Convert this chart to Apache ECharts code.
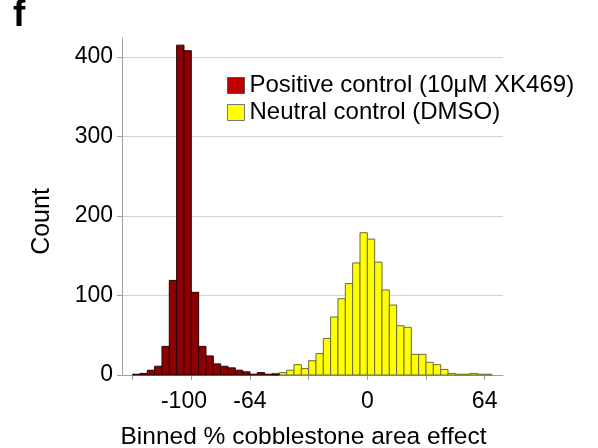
<!DOCTYPE html>
<html>
<head>
<meta charset="utf-8">
<script src="https://cdn.jsdelivr.net/npm/echarts@6/dist/echarts.min.js"></script>
<style>
html,body{margin:0;padding:0;background:#fff;}
#chart{width:598px;height:448px;}
</style>
</head>
<body>
<div id="chart"></div>
<script>
// Bin width (data units) and left edges of each bin
const BIN_WIDTH = 4;
const positiveBinLeft = [-128,-124,-120,-116,-112,-108,-104,-100,-96,-92,-88,-84,-80,-76,-72,-68,-64,-60,-56,-52];
const positiveCounts  = [1,2,6,11,36,119,415,408,104,36,24,14,11,9,6,4,1,3,1,1];
const neutralBinLeft  = [-52,-48,-44,-40,-36,-32,-28,-24,-20,-16,-12,-8,-4,0,4,8,12,16,20,24,28,32,36,40,44,48,52,56,60,64];
const neutralCounts   = [2,3,6,13,8,18,27,46,73,96,115,141,179,171,142,107,88,62,60,26,26,16,13,7,2,1,1,2,1,1];
const xTickValues  = [-128,-96,-64,-32,0,32,64];
const xLabelValues = [-100,-64,0,64];
const yTickValues  = [0,100,200,300,400];
const seriesNames  = ['Positive control (10\u03bcM XK469)','Neutral control (DMSO)'];

const FONT = '"Liberation Sans", Arial, Helvetica, sans-serif';

function makeData(lefts, counts){
  return lefts.map((l,i)=>[l, l + BIN_WIDTH, counts[i]]);
}
function barRenderer(fill, stroke){
  return function(params, api){
    const p0 = api.coord([api.value(0), api.value(2)]);
    const p1 = api.coord([api.value(1), 0]);
    return {
      type:'rect',
      shape:{x:p0[0], y:p0[1], width:p1[0]-p0[0], height:p1[1]-p0[1]},
      style:{fill:fill, stroke:stroke, lineWidth:1}
    };
  };
}

const chart = echarts.init(document.getElementById('chart'), null, {renderer:'canvas'});
chart.setOption({
  animation:false,
  backgroundColor:'#ffffff',
  title:{text:'f', left:8, top:-8, textStyle:{fontFamily:FONT, fontWeight:'bold', fontSize:37, color:'#000'}},
  legend:{
    orient:'vertical', left:227, top:72, padding:0, itemWidth:17, itemHeight:16, itemGap:0,
    textStyle:{fontFamily:FONT, fontSize:24, color:'#000', lineHeight:27},
    data:[
      {name:seriesNames[0], icon:'rect', itemStyle:{color:'#c00000', borderColor:'#555', borderWidth:1}},
      {name:seriesNames[1], icon:'rect', itemStyle:{color:'#ffff00', borderColor:'#777', borderWidth:1}}
    ]
  },
  grid:{left:122, right:95, top:38, bottom:73, outerBoundsMode:'none', containLabel:false},
  xAxis:{
    type:'value', min:-133.8, max:74,
    name:'Binned % cobblestone area effect', nameLocation:'middle', nameGap:50,
    nameTextStyle:{fontFamily:FONT, fontSize:24.5, color:'#000', padding:[0,18,0,0]},
    axisLine:{show:true, onZero:false, lineStyle:{color:'#a0a0a0', width:1}},
    axisTick:{show:true, length:5, customValues:xTickValues, lineStyle:{color:'#a0a0a0'}},
    axisLabel:{customValues:xLabelValues, fontFamily:FONT, fontSize:23, color:'#000', margin:15},
    splitLine:{show:false}
  },
  yAxis:{
    type:'value', min:0, max:424,
    name:'Count', nameLocation:'middle', nameGap:67, nameRotate:90,
    nameTextStyle:{fontFamily:FONT, fontSize:25, color:'#000', padding:[0,30,0,0]},
    axisLine:{show:true, onZero:false, lineStyle:{color:'#a0a0a0', width:1}},
    axisTick:{show:true, length:5, customValues:yTickValues, lineStyle:{color:'#a0a0a0'}},
    axisLabel:{customValues:yTickValues, fontFamily:FONT, fontSize:23, color:'#000', margin:9},
    splitLine:{show:true, lineStyle:{color:'#d4d4d4', width:1}}
  },
  series:[
    {
      name:seriesNames[1], type:'custom', itemStyle:{color:'#ffff00'},
      data:makeData(neutralBinLeft, neutralCounts),
      encode:{x:[0,1], y:2},
      renderItem:barRenderer('#ffff00','#6b6b3a')
    },
    {
      name:seriesNames[0], type:'custom', itemStyle:{color:'#c00000'},
      data:makeData(positiveBinLeft, positiveCounts),
      encode:{x:[0,1], y:2},
      renderItem:barRenderer('#8b0000','#2a0000')
    }
  ]
});
</script>
</body>
</html>
